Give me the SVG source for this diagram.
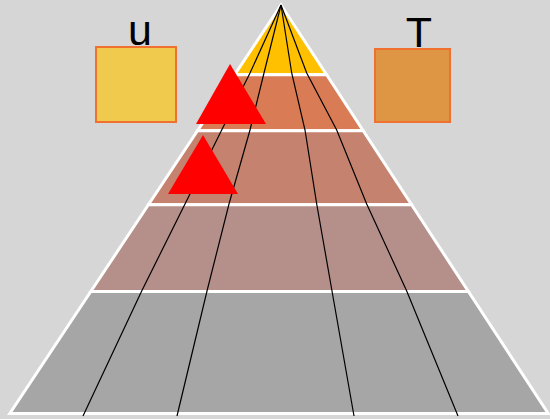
<svg xmlns="http://www.w3.org/2000/svg" width="550" height="419" viewBox="0 0 550 419">
<style>
.band{stroke:#FFFFFF;stroke-width:3;stroke-linejoin:miter}
.box{stroke:#F07030;stroke-width:2}
.ray{fill:none;stroke:#000000;stroke-width:1.2}
.lbl{font-family:"Liberation Sans",Arial,sans-serif;font-size:43px;fill:#000000;text-anchor:middle}
.tri{fill:#FF0000}
</style>
<rect width="550" height="419" fill="#D6D6D6"/>
<g id="pyramid">
<polygon id="band1" class="band" fill="#FFC000" points="281,5 326.6,74.7 234.7,74.7"/>
<polygon id="band2" class="band" fill="#D97B54" points="234.7,74.7 326.6,74.7 363.2,130.7 197.5,130.7"/>
<polygon id="band3" class="band" fill="#C4826F" points="197.5,130.7 363.2,130.7 411.6,204.7 148.4,204.7"/>
<polygon id="band4" class="band" fill="#B5908A" points="148.4,204.7 411.6,204.7 468.4,291.5 90.8,291.5"/>
<polygon id="band5" class="band" fill="#A6A6A6" points="90.8,291.5 468.4,291.5 548.2,413.5 9.8,413.5"/>
</g>
<g id="connectors">
<polyline class="ray" points="281,5 250,73 221.7,130 185,204 141.7,291 83,416"/>
<polyline class="ray" points="281,5 264,73 250,130 229,204 207,291 177,416"/>
<polyline class="ray" points="281,5 291.7,73 305,130 316.7,204 332,291 354,416"/>
<polyline class="ray" points="281,5 306.7,73 336.7,130 366.7,204 406.7,291 458,416"/>
</g>
<g id="node-u">
<rect class="box" x="96" y="47" width="80" height="75" fill="#F0CA4C"/>
<text class="lbl" x="140" y="45">u</text>
</g>
<g id="node-T">
<rect class="box" x="375" y="49" width="75" height="73" fill="#DE9645"/>
<text class="lbl" x="419" y="47">T</text>
</g>
<g id="marker1"><polygon class="tri" points="230,64 266,124 196,124"/></g>
<g id="marker2"><polygon class="tri" points="203,135 238,194 168,194"/></g>
</svg>
